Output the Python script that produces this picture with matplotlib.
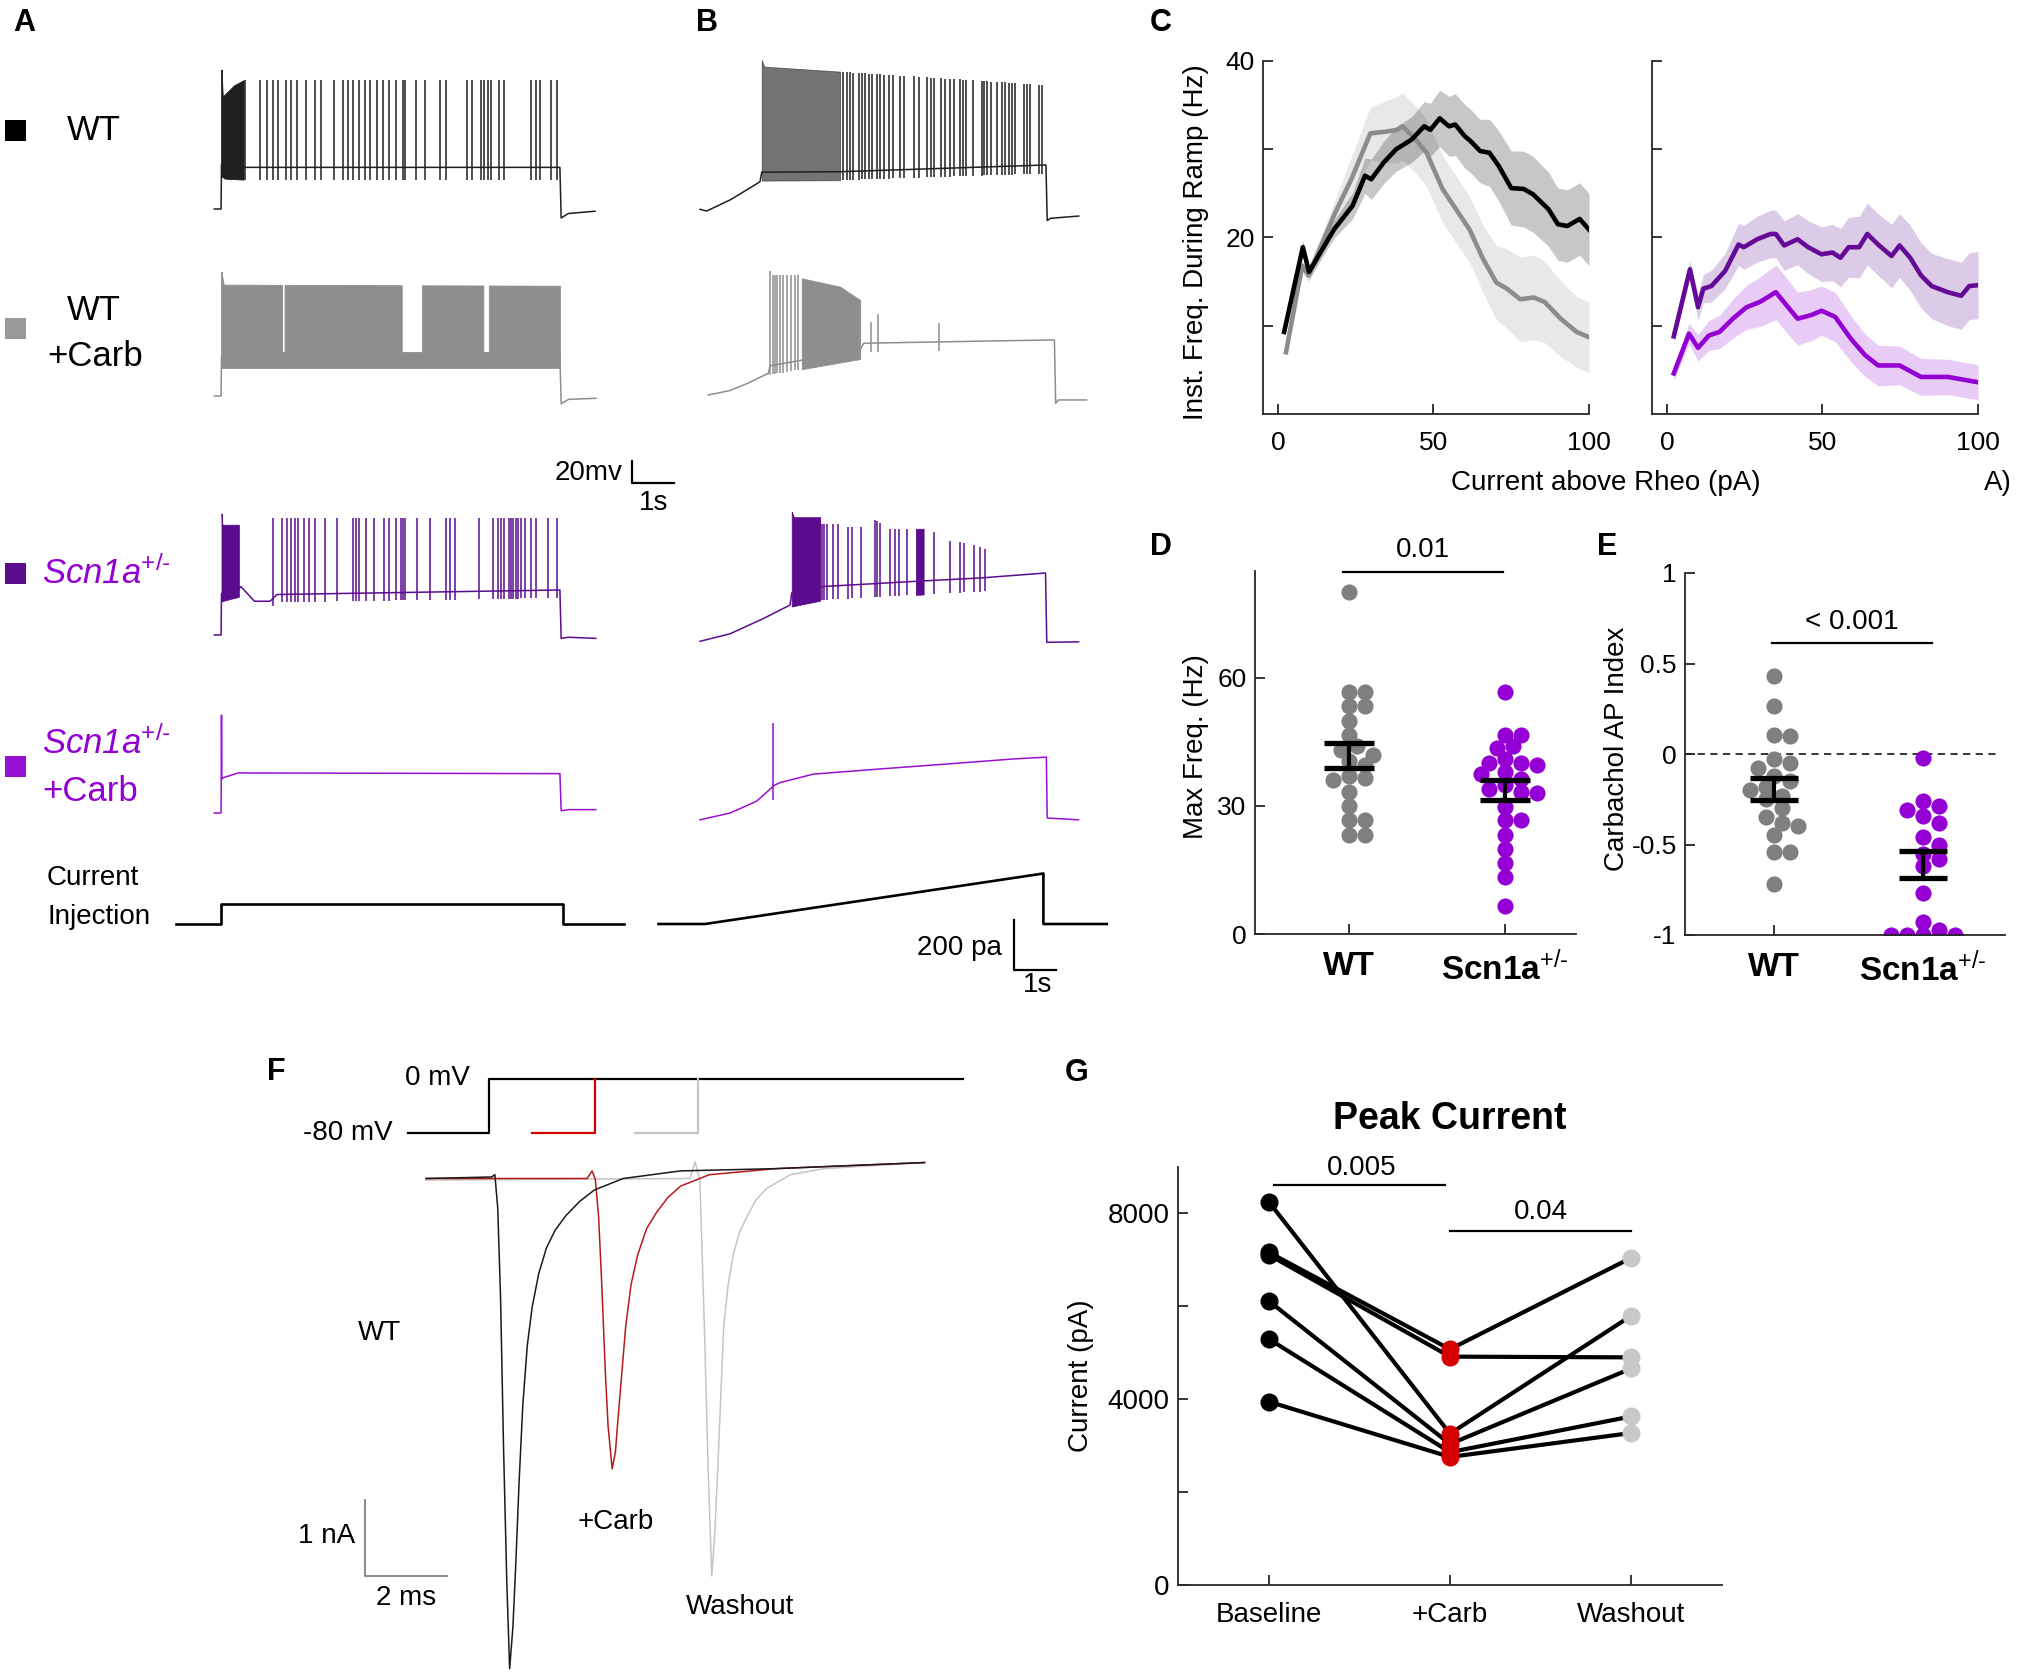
import numpy as np
import matplotlib.pyplot as plt
from matplotlib.patches import Rectangle

plt.rcParams['font.family'] = ['Liberation Sans', 'DejaVu Sans']
plt.rcParams['mathtext.fontset'] = 'custom'
plt.rcParams['mathtext.rm'] = 'Liberation Sans'
plt.rcParams['mathtext.it'] = 'Liberation Sans:italic'
plt.rcParams['mathtext.bf'] = 'Liberation Sans:bold'
plt.rcParams['mathtext.default'] = 'regular'

C_WT = '#1f1f1f'
C_CARB = '#8e8e8e'
C_SCN = '#5b0b8d'
C_SCNC = '#9810d2'
C_DOT_GRAY = '#7f7f7f'
C_DOT_PURP = '#9400d3'
SCN_LABEL = r'Scn1a$^{\text{+/-}}$'

# ---------------- A: step current, traces (s, mV) ----------------
a_wt_t = [-0.17, -0.01, 0.0, 0.08, 0.6, 8.0, 8.03, 8.2, 8.83]
a_wt_v = [-70, -70, -30, -32, -33, -33, -78, -74, -72]
a_wt_spikes = [0.0, 0.548, 0.917, 1.075, 1.223, 1.339, 1.519, 1.645, 1.783, 2.004, 2.205,
               2.342, 2.658, 2.87, 2.996, 3.102, 3.26, 3.397, 3.503, 3.682, 3.819, 3.967,
               4.136, 4.294, 4.347, 4.6, 4.822, 5.16, 5.297, 5.793, 5.93, 6.141, 6.215,
               6.3, 6.373, 6.563, 6.669, 7.323, 7.429, 7.535, 7.798, 7.935]
a_wt_peak_t = [0.0, 0.03, 0.3, 0.55, 8.0]
a_wt_peak_v = [54, 30, 40, 45, 45]
a_wt_dense = [(0.0, 0.52)]

a_carb_t = [-0.17, -0.01, 0.0, 8.0, 8.03, 8.2, 8.85]
a_carb_v = [-70, -70, -34, -34, -77, -73, -72]
a_carb_spikes = [0.0]
a_carb_peak_t = [0.0, 0.05, 8.0]
a_carb_peak_v = [40, 29, 28]
a_carb_dense = [(0.0, 1.43), (1.49, 4.26), (4.74, 6.19), (6.32, 8.0)]
a_carb_gaps = [(1.43, 1.49), (4.26, 4.74), (6.19, 6.32)]
a_carb_gap_v = (-45, -31)

a_scn_t = [-0.17, -0.01, 0.0, 0.41, 0.46, 0.78, 1.15, 1.31, 8.0, 8.03, 8.2, 8.85]
a_scn_v = [-70, -70, -33, -29, -27, -40, -40, -34, -30, -73, -72, -73]
a_scn_spikes = [1.223, 1.434, 1.54, 1.645, 1.73, 1.814, 1.94, 2.067, 2.204, 2.447, 2.73,
                3.10, 3.176, 3.239, 3.418, 3.608, 3.84, 3.967, 4.136, 4.241, 4.294, 4.347,
                4.632, 4.928, 5.318, 5.392, 5.529, 6.078, 6.426, 6.532, 6.606, 6.69, 6.796,
                6.848, 6.90, 6.954, 7.007, 7.09, 7.165, 7.323, 7.43, 7.725, 7.935]
a_scn_peak_t = [0.0, 0.02, 0.41, 0.5, 8.0]
a_scn_peak_v = [38, 28, 28, 34, 34]
a_scn_dense = [(0.0, 0.41)]

a_scnc_t = [-0.17, -0.01, 0.0, 0.008, 0.04, 0.4, 8.0, 8.03, 8.2, 8.85]
a_scnc_v = [-70, -70, 17, -40, -38.6, -34.4, -35, -68, -67, -67]

a_inj_t = [-1.08, 0, 0, 8.08, 8.08, 9.52]
a_inj = [0, 0, 80, 80, 0, 0]

# ---------------- B: ramp current ----------------
b_wt_t = [-0.118, 0.04, 0.592, 0.986, 1.30, 1.341, 3.195, 8.06, 8.09, 8.17, 8.836]
b_wt_v = [-70, -71.5, -61.7, -52.8, -45.5, -37, -36.6, -30.6, -80, -78, -76]
b_wt_spikes = [3.274, 3.353, 3.432, 3.51, 3.63, 3.708, 3.787, 3.866, 3.945, 4.063, 4.142,
               4.236, 4.339, 4.442, 4.615, 4.694, 4.931, 5.049, 5.246, 5.341, 5.404, 5.586,
               5.68, 5.799, 5.893, 6.02, 6.098, 6.177, 6.335, 6.548, 6.603, 6.666, 6.761,
               6.903, 7.021, 7.1, 7.179, 7.258, 7.337, 7.534, 7.613, 7.692, 7.89, 7.968]
b_wt_peak_t = [1.341, 1.40, 8.0]
b_wt_peak_v = [62.7, 56.8, 40.5]
b_wt_dense = [(1.341, 3.195)]

b_carb_t = [0.079, 0.592, 0.986, 1.499, 1.538, 3.669, 3.75, 8.26, 8.29, 8.35, 9.02]
b_carb_v = [-70, -66, -60, -50.7, -44, -30, -24, -21, -77.4, -74.4, -74.4]
b_carb_spikes = [1.538, 1.6, 1.657, 1.712, 1.775, 1.838, 1.933, 2.028, 2.13, 2.209,
                 3.92, 4.087, 5.523]
b_carb_peak_t = [1.538, 1.6, 2.209, 2.288, 3.195, 3.669, 3.92, 4.087, 5.523]
b_carb_peak_v = [40.5, 36.7, 36.7, 33.7, 26.3, 14.4, -4.8, 2.0, -5.7]
b_carb_dense = [(2.288, 3.669)]

b_scn_t = [-0.118, 0.592, 1.38, 2.012, 2.05, 2.8, 4.93, 6.51, 8.05, 8.08, 8.83]
b_scn_v = [-70, -63.3, -49.8, -37.7, -27, -21.3, -16.8, -13.7, -9.3, -70.9, -70.5]
b_scn_spikes = [2.761, 2.816, 2.88, 3.037, 3.156, 3.392, 3.471, 3.692, 4.024, 4.063, 4.142,
                4.379, 4.497, 4.576, 4.773, 5.404, 5.799, 6.036, 6.13, 6.351, 6.493, 6.611]
b_scn_peak_t = [2.051, 2.1, 2.722, 2.761, 3.156, 3.392, 3.692, 4.024, 4.142, 4.379, 5.168,
                5.404, 5.799, 6.13, 6.351, 6.611]
b_scn_peak_v = [45, 40.3, 40.3, 34.3, 34.3, 32, 32, 38, 35, 30, 30, 27, 19.2, 17.6, 16, 12]
b_scn_dense = [(2.051, 2.722), (4.986, 5.168)]

b_scnc_t = [-0.118, 0.592, 1.22, 1.578, 1.602, 1.775, 2.564, 4.142, 5.72, 7.298, 8.07, 8.09, 8.83]
b_scnc_v = [-70, -64, -53.5, -41.4, -40, -36.9, -29.4, -24.8, -20.4, -15.9, -14.3, -68.4, -70]
b_scnc_spikes = [1.602]
b_scnc_peak_t = [1.602]
b_scnc_peak_v = [15.7]

b_inj_t = [-1.1, 0, 8.0, 8.0, 9.5]
b_inj = [0, 0, 200, 0, 0]

# ---------------- C: inst. frequency during ramp ----------------
c_wt_x = [2, 8, 10, 18, 24, 28, 30, 34, 38, 43, 47, 49, 52, 55, 57, 60, 62, 65, 68, 71,
          75, 79, 82, 87, 90, 93, 97, 100]
c_wt_m = [9.3, 18.9, 16.1, 20.9, 23.6, 27.0, 26.6, 28.5, 30.0, 31.1, 32.6, 32.2, 33.5, 32.6,
          32.8, 31.5, 30.9, 29.8, 29.6, 28.1, 25.6, 25.5, 24.9, 23.2, 21.5, 21.3, 22.1, 20.9]
c_wt_s = [0.6, 0.8, 0.8, 1.0, 1.5, 2.0, 2.3, 2.4, 2.5, 2.6, 2.8, 3.0, 3.2, 3.4, 3.5, 3.6,
          3.6, 3.6, 3.8, 4.0, 4.2, 4.3, 4.3, 4.2, 4.1, 4.1, 4.1, 4.1]

c_carb_x = [2.6, 7.8, 9.8, 18.4, 23.6, 29.7, 34.8, 38.3, 40, 44.3, 47.8, 52.9, 58, 61.6,
            65.9, 70.2, 73.6, 77.9, 82.2, 85.7, 90.9, 96, 100]
c_carb_m = [7.0, 16.8, 15.7, 22.8, 26.6, 31.8, 32.0, 32.2, 32.6, 31.1, 29.6, 25.5, 22.8,
            20.9, 17.6, 14.9, 14.2, 13.0, 13.2, 12.7, 10.8, 9.3, 8.7]
c_carb_s = [0.4, 0.6, 0.8, 1.5, 2.5, 3.0, 3.5, 3.8, 3.8, 3.8, 3.8, 3.8, 3.8, 3.7, 3.8, 4.2,
            4.5, 4.8, 4.8, 4.6, 4.3, 4.0, 4.0]

c_scn_x = [2.2, 7.4, 10, 11.7, 14.3, 18.7, 23, 24.7, 29, 33.3, 35, 37.7, 42, 45.4, 49.7,
           53.2, 55.8, 58.4, 61.8, 64.4, 67.9, 72.2, 74.8, 78.2, 81.7, 85.1, 90.3, 94.6,
           97.2, 100]
c_scn_m = [8.8, 16.4, 12.1, 14.2, 14.5, 16.2, 19.2, 18.9, 19.8, 20.4, 20.4, 19.1, 19.8,
           18.9, 18.1, 18.3, 17.7, 18.9, 18.9, 20.4, 19.2, 17.9, 19.1, 17.7, 15.7, 14.5,
           13.8, 13.4, 14.5, 14.6]
c_scn_s = [0.8, 1.0, 1.5, 1.6, 1.8, 2.0, 2.4, 2.5, 2.6, 2.7, 2.7, 2.8, 2.9, 3.0, 3.1, 3.2,
           3.3, 3.4, 3.5, 3.5, 3.5, 3.6, 3.6, 3.7, 3.7, 3.7, 3.8, 3.8, 3.8, 3.8]

c_scnc_x = [2.2, 7.1, 10, 13.5, 16.9, 21.2, 25.6, 29.9, 35, 38.5, 42, 46.3, 49.7, 54.1,
            59.2, 63.6, 67.9, 74.8, 81.7, 90.3, 100]
c_scnc_m = [4.6, 9.1, 7.5, 8.9, 9.3, 10.8, 12.1, 12.7, 13.8, 12.3, 10.8, 11.2, 11.7, 11.0,
            8.5, 6.7, 5.5, 5.5, 4.2, 4.2, 3.6]
c_scnc_s = [0.8, 1.2, 1.5, 1.7, 1.9, 2.2, 2.5, 2.8, 3.1, 3.1, 3.0, 2.9, 2.8, 2.8, 2.6, 2.4,
            2.3, 2.2, 2.1, 2.0, 2.0]

# ---------------- D / E: per-cell values ----------------
d_wt = [80.0, 56.7, 56.7, 53.3, 53.3, 49.8, 46.7, 44.0, 43.0, 42.0, 40.5, 39.5, 37.0, 36.5,
        36.0, 33.3, 30.0, 26.6, 26.6, 23.1, 23.1]
d_scn = [56.6, 46.7, 46.7, 44.0, 43.5, 41.0, 40.0, 40.0, 39.5, 38.0, 37.5, 36.4, 35.0, 34.0,
         33.3, 33.0, 29.8, 26.8, 26.8, 23.1, 20.0, 16.6, 13.3, 6.6]
e_wt = [0.43, 0.265, 0.105, 0.10, -0.03, -0.05, -0.08, -0.12, -0.15, -0.18, -0.2, -0.23,
        -0.25, -0.30, -0.35, -0.38, -0.40, -0.45, -0.54, -0.54, -0.72]
e_scn = [-0.02, -0.26, -0.29, -0.31, -0.34, -0.38, -0.46, -0.50, -0.55, -0.58, -0.62, -0.77,
         -0.93, -0.97, -1.0, -1.0, -1.0, -1.0]

# ---------------- F: sodium currents (ms, nA) ----------------
f_wt_t = [0, 1.60, 1.68, 1.75, 1.82, 1.89, 1.97, 2.04, 2.12, 2.19, 2.27, 2.36, 2.47, 2.59,
          2.75, 2.94, 3.15, 3.41, 3.75, 4.11, 4.81, 6.21, 8.54, 12.16]
f_wt_i = [0, 0.02, 0.05, -0.39, -1.6, -3.51, -5.3, -6.45, -5.9, -5.07, -4.0, -2.99, -2.2,
          -1.69, -1.25, -0.91, -0.68, -0.49, -0.3, -0.15, 0.0, 0.10, 0.13, 0.21]
f_carb_t = [0, 3.93, 4.05, 4.13, 4.21, 4.29, 4.37, 4.44, 4.54, 4.62, 4.67, 4.77, 4.87, 5.0,
            5.16, 5.38, 5.63, 5.9, 6.21, 6.91, 8.54, 12.16]
f_carb_i = [0, 0, 0.10, -0.01, -0.5, -1.43, -2.5, -3.25, -3.82, -3.6, -3.25, -2.6, -1.95,
            -1.4, -1.01, -0.66, -0.44, -0.25, -0.10, 0.05, 0.13, 0.21]
f_wash_t = [0, 6.44, 6.56, 6.68, 6.79, 6.88, 6.97, 7.05, 7.12, 7.26, 7.37, 7.49, 7.65, 7.84,
            8.05, 8.31, 8.89, 9.71, 12.16]
f_wash_i = [-0.02, 0, 0.22, -0.02, -1.95, -3.8, -5.23, -4.6, -3.77, -1.95, -1.4, -1.01,
            -0.7, -0.49, -0.28, -0.13, 0.05, 0.13, 0.21]
f_v_t = [-0.44, 1.54, 1.54, 13.1]
f_v = [-80, -80, 0, 0]
f_vc_t = [2.59, 4.11, 4.11]
f_vc = [-80, -80, 0]
f_vw_t = [5.1, 6.63, 6.63]
f_vw = [-80, -80, 0]

# ---------------- G: peak current per cell ----------------
g_conditions = ['Baseline', '+Carb', 'Washout']
g_base = [8254, 7165, 7110, 6117, 5299, 3948]
g_carb = [3257, 5076, 4917, 3035, 2860, 2757]
g_wash = [5799, 7046, 4901, 4663, 3630, 3273]

# ================= layout helpers =================
W, H = 2023, 1673
fig = plt.figure(figsize=(W / 100, H / 100), dpi=100)


def px_axes(x0, y0, x1, y1):
    return fig.add_axes([x0 / W, 1 - y1 / H, (x1 - x0) / W, (y1 - y0) / H])


def data_axes(px, py, x_ref, y_ref, sx, sy, xlim, ylim):
    ax = px_axes(px + (xlim[0] - x_ref) * sx, py - (ylim[1] - y_ref) * sy,
                 px + (xlim[1] - x_ref) * sx, py - (ylim[0] - y_ref) * sy)
    ax.set_xlim(xlim)
    ax.set_ylim(ylim)
    ax.axis('off')
    return ax


def ftext(x, y, s, **kw):
    kw.setdefault('ha', 'center')
    kw.setdefault('va', 'center')
    fig.text(x / W, 1 - y / H, s, **kw)


def square(x, y, color, size=21):
    fig.add_artist(Rectangle((x / W, 1 - (y + size) / H), size / W, size / H,
                             transform=fig.transFigure, color=color, lw=0))


PX_S = 42.3
PX_MV = 1.125
PX_PA = 0.2525


def trace_axes(x0, rest):
    return data_axes(x0, rest, 0, -70, PX_S, PX_MV, (-1.2, 9.8), (-110, 80))


def draw_trace(ax, t, v, color, spikes=(), pk_t=(0,), pk_v=(0,), dense=(), ahp=10,
               dense_alpha=1.0):
    ax.plot(t, v, color=color, lw=1.1)
    for t0, t1 in dense:
        ts = np.linspace(t0, t1, 80)
        ax.fill_between(ts, np.interp(ts, t, v) - ahp, np.interp(ts, pk_t, pk_v),
                        color=color, lw=0.6, alpha=dense_alpha)
    if len(spikes):
        sp = np.array(spikes)
        ax.vlines(sp, np.interp(sp, t, v) - ahp, np.interp(sp, pk_t, pk_v),
                  color=color, lw=1.1)


def matlab_axes(ax, fs=19):
    for s in ('top', 'right'):
        ax.spines[s].set_visible(False)
    for s in ('left', 'bottom'):
        ax.spines[s].set_linewidth(1.3)
        ax.spines[s].set_color('#262626')
    ax.tick_params(direction='in', length=7, width=1.3, color='#262626', labelsize=fs)
    ax.tick_params(axis='x', pad=12)
    ax.tick_params(axis='y', pad=6)
    ax.patch.set_visible(False)


# ================= panel letters =================
for lab, x, y in [('A', 24, 23), ('B', 707, 23), ('C', 1161, 23), ('D', 1161, 547),
                  ('E', 1607, 547), ('F', 276, 1072), ('G', 1077, 1073)]:
    ftext(x, y, lab, fontsize=22, fontweight='bold')

# ================= A / B row labels =================
square(5, 120, 'black')
ftext(94, 131, 'WT', fontsize=25)
square(5, 318, '#999999')
ftext(94, 310, 'WT', fontsize=25)
ftext(95, 357, '+Carb', fontsize=25)
square(5, 563, C_SCN)
ftext(42, 573, SCN_LABEL, ha='left', fontsize=25, style='italic', color=C_DOT_PURP)
square(5, 756, C_SCNC)
ftext(42, 743, SCN_LABEL, ha='left', fontsize=25, style='italic', color=C_DOT_PURP)
ftext(42, 791, '+Carb', ha='left', fontsize=25, color=C_DOT_PURP)
ftext(47, 878, 'Current', ha='left', fontsize=20)
ftext(47, 917, 'Injection', ha='left', fontsize=20)

# ================= A traces =================
ax = trace_axes(221.5, 209)
draw_trace(ax, a_wt_t, a_wt_v, C_WT, a_wt_spikes, a_wt_peak_t, a_wt_peak_v, a_wt_dense, 11)
ax = trace_axes(221.5, 396)
draw_trace(ax, a_carb_t, a_carb_v, C_CARB, a_carb_spikes, a_carb_peak_t, a_carb_peak_v,
           a_carb_dense, 11)
for g0, g1 in a_carb_gaps:
    ax.fill_between([g0, g1], a_carb_gap_v[0], a_carb_gap_v[1], color=C_CARB, lw=0.6)
ax = trace_axes(221.5, 635)
draw_trace(ax, a_scn_t, a_scn_v, C_SCN, a_scn_spikes, a_scn_peak_t, a_scn_peak_v,
           a_scn_dense, 7)
ax = trace_axes(221.5, 813)
draw_trace(ax, a_scnc_t, a_scnc_v, C_SCNC)
ax = data_axes(221.5, 924, 0, 0, PX_S, PX_PA, (-1.3, 9.8), (-200, 220))
ax.plot(a_inj_t, a_inj, color='black', lw=1.9)

# 20 mV / 1 s scale bar
ax = data_axes(631.7, 483, 0, 0, PX_S, PX_MV, (-0.2, 1.2), (-5, 25))
ax.plot([0, 0, 1], [20, 0, 0], color='black', lw=1.6)
ftext(623, 473, '20mv', ha='right', fontsize=20)
ftext(654, 503, '1s', fontsize=20)

# ================= B traces =================
ax = trace_axes(705, 209.3)
draw_trace(ax, b_wt_t, b_wt_v, C_WT, b_wt_spikes, b_wt_peak_t, b_wt_peak_v, b_wt_dense,
           7.5, dense_alpha=0.62)
ax = trace_axes(705, 395)
draw_trace(ax, b_carb_t, b_carb_v, C_CARB, b_carb_spikes, b_carb_peak_t, b_carb_peak_v,
           b_carb_dense, 8)
ax = trace_axes(705, 641.3)
draw_trace(ax, b_scn_t, b_scn_v, C_SCN, b_scn_spikes, b_scn_peak_t, b_scn_peak_v,
           b_scn_dense, 12)
ax = trace_axes(705, 819.8)
draw_trace(ax, b_scnc_t, b_scnc_v, C_SCNC, b_scnc_spikes, b_scnc_peak_t, b_scnc_peak_v,
           (), 12)
ax = data_axes(705, 924, 0, 0, PX_S, PX_PA, (-1.3, 9.8), (-200, 220))
ax.plot(b_inj_t, b_inj, color='black', lw=1.9)
ax.plot([7.305, 7.305, 8.305], [17.8, -182.2, -182.2], color='black', lw=1.6)
ftext(1002, 948, '200 pa', ha='right', fontsize=20)
ftext(1038, 985, '1s', fontsize=20)

# ================= C =================
axc1 = px_axes(1263, 61, 1589, 414)
axc1.fill_between(c_carb_x, np.subtract(c_carb_m, c_carb_s), np.add(c_carb_m, c_carb_s),
                  color='#8c8c8c', alpha=0.2, lw=0)
axc1.fill_between(c_wt_x, np.subtract(c_wt_m, c_wt_s), np.add(c_wt_m, c_wt_s),
                  color='black', alpha=0.22, lw=0)
axc1.plot(c_carb_x, c_carb_m, color='#8c8c8c', lw=3.3)
axc1.plot(c_wt_x, c_wt_m, color='black', lw=3.3)
axc2 = px_axes(1652, 61, 1978, 414)
axc2.fill_between(c_scn_x, np.subtract(c_scn_m, c_scn_s), np.add(c_scn_m, c_scn_s),
                  color=C_SCN, alpha=0.21, lw=0)
axc2.fill_between(c_scnc_x, np.subtract(c_scnc_m, c_scnc_s), np.add(c_scnc_m, c_scnc_s),
                  color=C_DOT_PURP, alpha=0.2, lw=0)
axc2.plot(c_scn_x, c_scn_m, color='#640a96', lw=3.3)
axc2.plot(c_scnc_x, c_scnc_m, color=C_DOT_PURP, lw=3.3)
for ax in (axc1, axc2):
    matlab_axes(ax)
    ax.set_xlim(-4.8, 100)
    ax.set_ylim(0, 40)
    ax.set_xticks([0, 50, 100])
    ax.set_yticks([10, 20, 30, 40])
axc1.set_yticklabels(['', '20', '', '40'])
axc2.set_yticklabels([])
ftext(1196, 242, 'Inst. Freq. During Ramp (Hz)', rotation=90, fontsize=20)
ftext(1606, 483, 'Current above Rheo (pA)', fontsize=20)
ftext(1998, 483, 'A)', fontsize=20)


# ================= D / E =================
def swarm(vals, py, px, diam=16.0, spread=0.78):
    vals = np.asarray(vals, float)
    offs = np.zeros(len(vals))
    placed = []
    for i in np.argsort(-vals):
        y = vals[i] * py
        for k in [0, 1, -1, 2, -2, 3, -3, 4, -4, 5, -5]:
            x = k * diam * 0.5
            if all((x - a) ** 2 + (y - b) ** 2 >= (diam * spread) ** 2 for a, b in placed):
                break
        placed.append((x, y))
        offs[i] = x / px
    return offs


def dot_panel(ax, groups, colors, py, px):
    for k, (vals, col) in enumerate(zip(groups, colors)):
        xc = k + 1
        ax.scatter(xc + swarm(vals, py, px), vals, s=135, color=col, lw=0, zorder=2)
        m = np.mean(vals)
        se = np.std(vals, ddof=1) / np.sqrt(len(vals))
        for yy in (m - se, m + se):
            ax.plot([xc - 0.16, xc + 0.16], [yy, yy], color='black', lw=3.8,
                    solid_capstyle='butt', zorder=3)
        ax.plot([xc, xc], [m - se, m + se], color='black', lw=3.0, zorder=3)
    matlab_axes(ax)
    ax.set_xticks([1, 2])
    ax.set_xticklabels(['WT', SCN_LABEL], fontsize=24, fontweight='bold')


axd = px_axes(1255, 571, 1576, 934)
axd.set_xlim(0.4, 2.455)
axd.set_ylim(0, 85)
dot_panel(axd, [d_wt, d_scn], [C_DOT_GRAY, C_DOT_PURP], 363 / 85, 156)
axd.set_yticks([0, 30, 60])
axd.plot([0.963, 1.988], [84.8, 84.8], color='black', lw=1.6, clip_on=False)
axd.text(1.475, 89.9, '0.01', ha='center', va='center', fontsize=20)
ftext(1196, 747, 'Max Freq. (Hz)', rotation=90, fontsize=20)

axe = px_axes(1685, 573, 2005, 935)
axe.set_xlim(0.4, 2.55)
axe.set_ylim(-1, 1)
axe.plot([0.4, 2.5], [0, 0], color='#262626', lw=1.3, ls=(0, (4, 3)), zorder=1)
dot_panel(axe, [e_wt, e_scn], [C_DOT_GRAY, C_DOT_PURP], 181, 149)
axe.set_yticks([-1, -0.5, 0, 0.5, 1])
axe.set_yticklabels(['-1', '-0.5', '0', '0.5', '1'])
axe.plot([0.985, 2.06], [0.613, 0.613], color='black', lw=1.6)
axe.text(1.522, 0.729, '< 0.001', ha='center', va='center', fontsize=20)
ftext(1617, 749, 'Carbachol AP Index', rotation=90, fontsize=20)

# ================= F =================
axp = data_axes(426, 1078.5, 0, 0, 41, 0.681, (-1.0, 14.0), (-90, 5))
axp.plot(f_v_t, f_v, color='black', lw=1.6)
axp.plot(f_vc_t, f_vc, color='#d40000', lw=1.6)
axp.plot(f_vw_t, f_vw, color='#c4c4c4', lw=1.6)
ftext(470, 1078, '0 mV', ha='right', fontsize=20)
ftext(393, 1133, '-80 mV', ha='right', fontsize=20)

axf = data_axes(426, 1178.5, 0, 0, 41, 76, (-3.0, 14.0), (-6.55, 1.2))
axf.plot(f_wash_t, f_wash_i, color='#c4c4c4', lw=1.1)
axf.plot(f_carb_t, f_carb_i, color='#b51a1a', lw=1.1)
axf.plot(f_wt_t, f_wt_i, color='#1a1a1a', lw=1.1)
axf.plot([-1.49, -1.49, 0.51], [-4.23, -5.23, -5.23], color='#808080', lw=1.3)
ftext(380, 1333, 'WT', fontsize=20)
ftext(616, 1522, '+Carb', fontsize=20)
ftext(740, 1607, 'Washout', fontsize=20)
ftext(355, 1536, '1 nA', ha='right', fontsize=20)
ftext(406, 1598, '2 ms', fontsize=20)

# ================= G =================
axg = px_axes(1178, 1167, 1722, 1585)
for b, c, w in zip(g_base, g_carb, g_wash):
    axg.plot([1, 2, 3], [b, c, w], color='black', lw=3.0, zorder=2)
axg.plot([1] * len(g_base), g_base, 'o', color='black', ms=13, mew=0, zorder=3)
axg.plot([2] * len(g_carb), g_carb, 'o', color='#d40000', ms=13, mew=0, zorder=3)
axg.plot([3] * len(g_wash), g_wash, 'o', color='#c8c8c8', ms=13, mew=0, zorder=3)
matlab_axes(axg)
axg.set_xlim(0.5, 3.5)
axg.set_ylim(0, 9000)
axg.set_xticks([1, 2, 3])
axg.set_xticklabels(g_conditions, fontsize=20)
axg.set_yticks([0, 2000, 4000, 6000, 8000])
axg.set_yticklabels(['0', '', '4000', '', '8000'], fontsize=20)
axg.plot([1.03, 1.97], [8612, 8612], color='black', lw=1.6, clip_on=False)
axg.text(1.515, 8978, '0.005', ha='center', va='center', fontsize=20)
axg.plot([2.0, 3.0], [7628, 7628], color='black', lw=1.6)
axg.text(2.5, 8038, '0.04', ha='center', va='center', fontsize=20)
ftext(1450, 1119, 'Peak Current', fontsize=27, fontweight='bold')
ftext(1081, 1376, 'Current (pA)', rotation=90, fontsize=20)

fig.savefig('out.png', dpi=100)
